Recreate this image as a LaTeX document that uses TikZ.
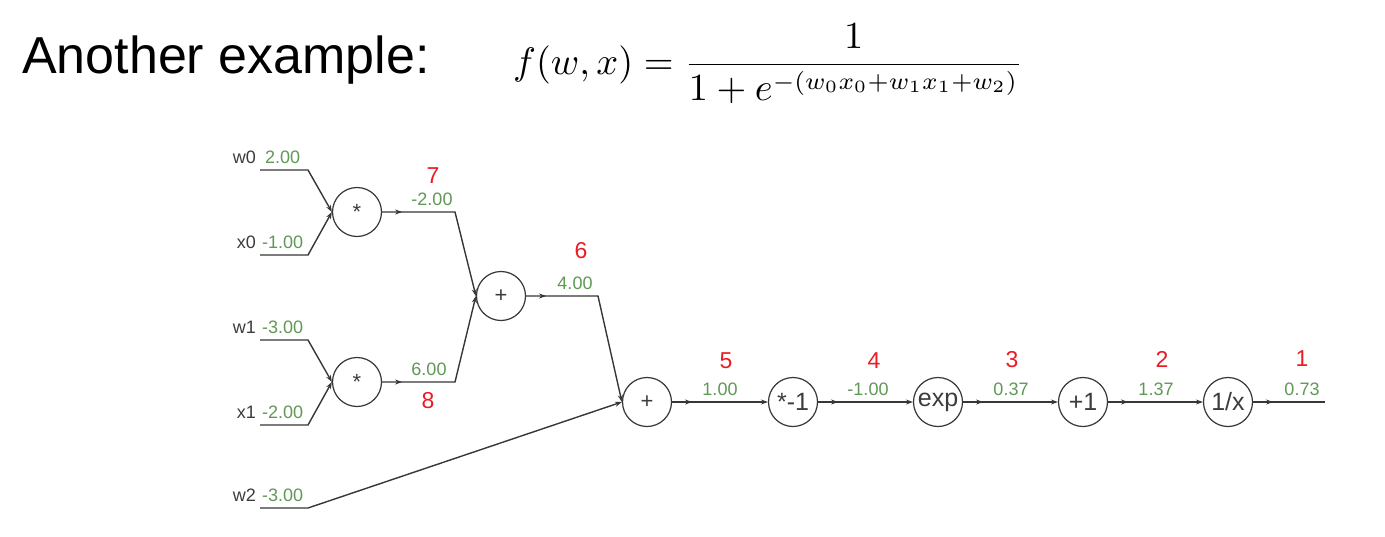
\documentclass[tikz,border=0pt]{standalone}
\usepackage{fontspec}
\setmainfont{Liberation Sans}
\usepackage{graphicx}
\usetikzlibrary{arrows.meta,decorations.markings}
\definecolor{valgreen}{RGB}{96,152,86}
\definecolor{numred}{RGB}{235,28,36}
\definecolor{wiregray}{RGB}{55,55,55}
\definecolor{labelgray}{RGB}{60,60,60}
\tikzset{
  op/.style={circle, draw=wiregray, line width=1.2pt, minimum size=49pt, inner sep=0pt,
    text=labelgray, font=\fontsize{25}{25}\selectfont},
  opsmall/.style={op, font=\fontsize{22}{22}\selectfont},
  wire/.style={draw=wiregray, line width=1.4pt, -{Stealth[length=7pt,width=5pt]}},
  wireopen/.style={draw=wiregray, line width=1.4pt},
  midarrow/.style={postaction={decorate, decoration={markings,
     mark=at position 20pt with {\arrow{Stealth[length=7pt,width=5pt]}}}}},
  val/.style={text=valgreen, font=\fontsize{18}{18}\selectfont, inner sep=0pt},
  inlab/.style={text=labelgray, font=\fontsize{18}{18}\selectfont, inner sep=0pt, anchor=base east},
  num/.style={text=numred, font=\fontsize{23}{23}\selectfont, inner sep=0pt, anchor=base},
}
\begin{document}
\begin{tikzpicture}[x=1pt,y=-1pt]
\useasboundingbox[fill=white] (0,0) rectangle (1385,536);

% title and formula
\node[anchor=base west, inner sep=0pt, font=\fontsize{52}{60}\selectfont] (title) at (22,73) {Another example:};
\node[anchor=base west, inner sep=0pt] (formula) at (513,74)
  {\resizebox{510pt}{!}{$\displaystyle f(w,x) = \frac{1}{1+e^{\scalebox{0.9}{$\scriptstyle -(w_0x_0+w_1x_1+w_2)$}}}$}};

% operation nodes
\node[opsmall] (mul1) at (357,212) {*};
\node[opsmall] (mul2) at (357,382) {*};
\node[opsmall] (add1) at (501,296) {+};
\node[opsmall] (add2) at (647,402) {+};
\node[op] (neg) at (793,402) {*-1};
\node[op] (expn) at (938,402) {exp};
\node[op] (plus1) at (1083,402) {+1};
\node[op] (recip) at (1228,402) {1/x};

% input coordinates
\coordinate (w0) at (260,170);
\coordinate (x0) at (260,255);
\coordinate (w1) at (260,340);
\coordinate (x1) at (260,425);
\coordinate (w2) at (260,508);
\coordinate (out) at (1325,402);

% input labels
\node[inlab] (lw0) at (256,163) {w0};
\node[inlab] (lx0) at (256,248) {x0};
\node[inlab] (lw1) at (256,333) {w1};
\node[inlab] (lx1) at (256,418) {x1};
\node[inlab] (lw2) at (256,501) {w2};
\node[val, anchor=base west] (vw0) at (265,163) {2.00};
\node[val, anchor=base west] (vx0) at (262,248) {-1.00};
\node[val, anchor=base west] (vw1) at (262,333) {-3.00};
\node[val, anchor=base west] (vx1) at (262,418) {-2.00};
\node[val, anchor=base west] (vw2) at (262,501) {-3.00};

% input wires
\draw[wire] (w0) -- (308,170) -- (mul1.west);
\draw[wire] (x0) -- (308,255) -- (mul1.west);
\draw[wire] (w1) -- (308,340) -- (mul2.west);
\draw[wire] (x1) -- (308,425) -- (mul2.west);
\draw[wire] (w2) -- (308,508) -- (add2.west);

% internal wires
\draw[wire, midarrow] (mul1.east) -- (455,212) -- (add1.west);
\draw[wire, midarrow] (mul2.east) -- (455,382) -- (add1.west);
\draw[wire, midarrow] (add1.east) -- (598,296) -- (add2.west);
\draw[wire, midarrow] (add2) -- (neg);
\draw[wire, midarrow] (neg) -- (expn);
\draw[wire, midarrow] (expn) -- (plus1);
\draw[wire, midarrow] (plus1) -- (recip);
\draw[wireopen, midarrow] (recip) -- (out);

% values
\node[val, anchor=base] (v7) at (432,205) {-2.00};
\node[val, anchor=base] (v8) at (429,375) {6.00};
\node[val, anchor=base] (v6) at (575,289) {4.00};
\node[val, anchor=base] (v5) at (720,395) {1.00};
\node[val, anchor=base] (v4) at (868,395) {-1.00};
\node[val, anchor=base] (v3) at (1011,395) {0.37};
\node[val, anchor=base] (v2) at (1156,395) {1.37};
\node[val, anchor=base] (v1) at (1302,395) {0.73};

% red step numbers
\node[num] (n7) at (433,183) {7};
\node[num] (n8) at (428,408) {8};
\node[num] (n6) at (581,258) {6};
\node[num] (n5) at (726,368) {5};
\node[num] (n4) at (874,368) {4};
\node[num] (n3) at (1012,367) {3};
\node[num] (n2) at (1162,367) {2};
\node[num] (n1) at (1302,366) {1};
\end{tikzpicture}
\end{document}
